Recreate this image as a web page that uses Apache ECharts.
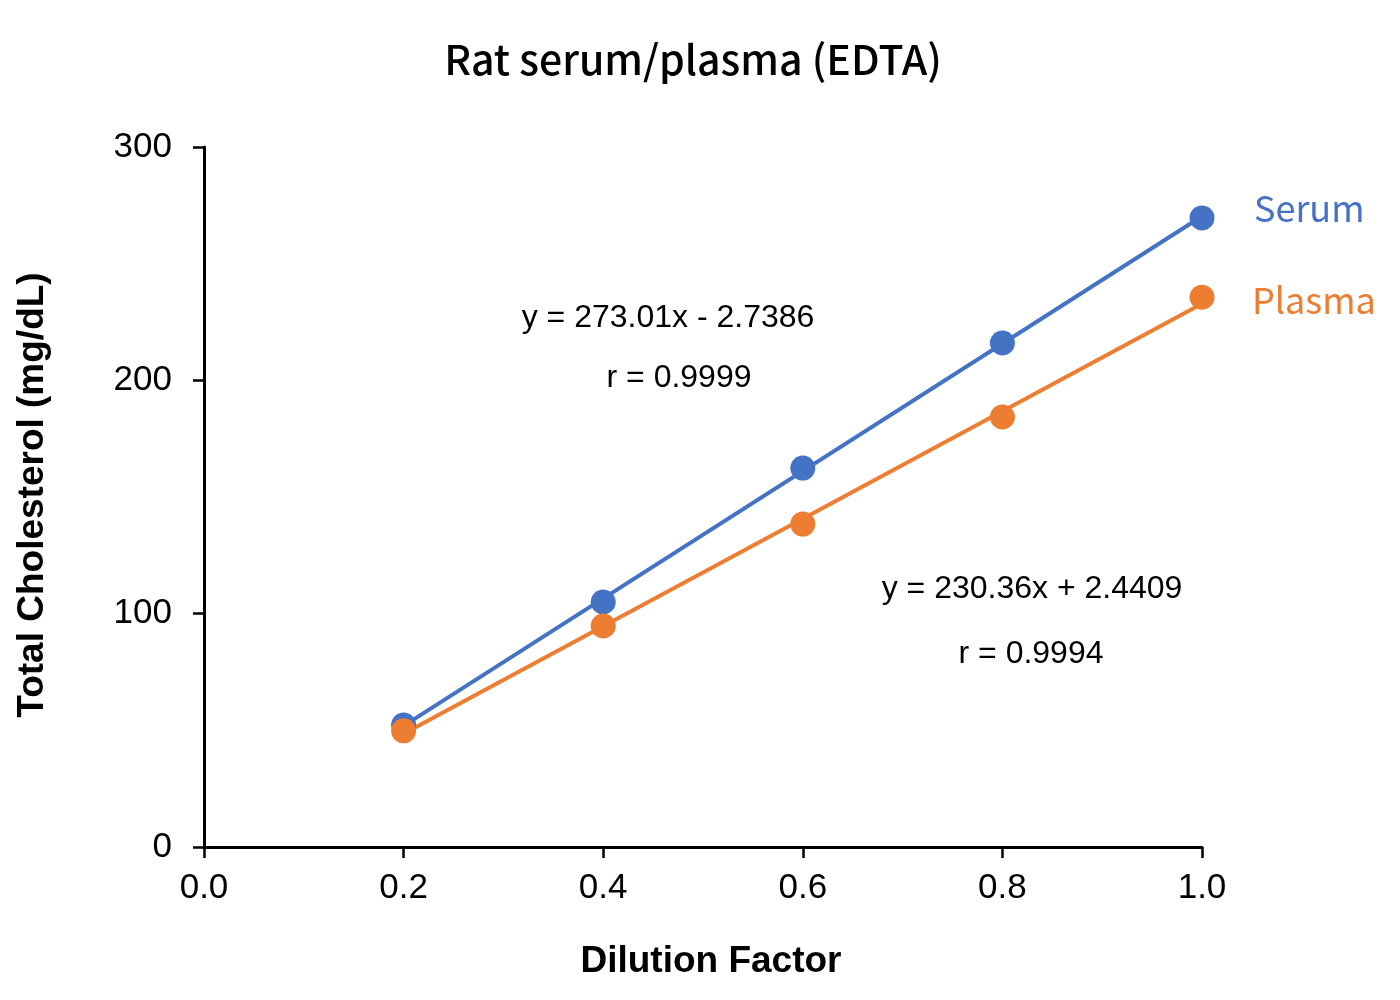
<!DOCTYPE html>
<html><head><meta charset="utf-8">
<script src="https://cdn.jsdelivr.net/npm/echarts@6/dist/echarts.min.js"></script>
<style>html,body{margin:0;padding:0;background:#fff}#c{width:1400px;height:1000px}</style>
</head><body><div id="c"></div>
<script>
const dilution = [0.2, 0.4, 0.6, 0.8, 1.0];
const serum = [52.3, 105.0, 162.4, 216.0, 269.6];
const plasma = [49.8, 94.7, 138.4, 184.3, 235.6];
const trendX = [0.2, 1.0];
const serumTrend = [51.9, 270.3];
const plasmaTrend = [48.5, 232.8];
const seriesNames = ['Serum', 'Plasma'];
const eqSerum = ['y = 273.01x - 2.7386', 'r = 0.9999'];
const eqPlasma = ['y = 230.36x + 2.4409', 'r = 0.9994'];
const blue = '#4472C4', orange = '#ED7D31';

const chart = echarts.init(document.getElementById('c'));
const pair = (xs, ys) => xs.map((x, i) => [x, ys[i]]);
const tickFont = { fontFamily: 'Liberation Sans', fontSize: 35, color: '#000' };
const eqStyle = { fontFamily: 'Liberation Sans', fontSize: 32, fill: '#000', textAlign: 'center', textVerticalAlign: 'middle' };
const axTitle = { fontFamily: 'Liberation Sans', fontWeight: 'bold', fontSize: 37, fill: '#000', textAlign: 'center', textVerticalAlign: 'middle' };

chart.setOption({
  animation: false,
  title: {
    text: 'Rat serum/plasma (EDTA)', left: 688, top: 34, textAlign: 'center',
    textStyle: { fontFamily: 'Noto Sans CJK JP', fontWeight: 500, fontSize: 41, color: '#000' }
  },
  grid: { left: 204, right: 198, top: 147, bottom: 153, containLabel: false },
  xAxis: {
    type: 'value', min: 0, max: 1, interval: 0.2,
    axisLine: { lineStyle: { color: '#000', width: 3 } },
    axisTick: { show: true, length: 11, lineStyle: { color: '#000', width: 2.5 } },
    axisLabel: Object.assign({ margin: 24, formatter: v => v.toFixed(1) }, tickFont),
    splitLine: { show: false }
  },
  yAxis: {
    type: 'value', min: 0, max: 300, interval: 100,
    axisLine: { show: true, lineStyle: { color: '#000', width: 3 } },
    axisTick: { show: true, length: 11, lineStyle: { color: '#000', width: 2.5 } },
    axisLabel: Object.assign({ margin: 32 }, tickFont),
    splitLine: { show: false }
  },
  graphic: [
    { type: 'text', x: 711, y: 962, style: Object.assign({ text: 'Dilution Factor' }, axTitle) },
    { type: 'text', x: 33, y: 495, rotation: Math.PI / 2, style: Object.assign({ text: 'Total Cholesterol (mg/dL)' }, axTitle) },
    { type: 'text', x: 1254, y: 208, style: { text: seriesNames[0], fontFamily: 'Noto Sans CJK JP', fontSize: 36, fill: blue, textAlign: 'left', textVerticalAlign: 'middle' } },
    { type: 'text', x: 1252, y: 300, style: { text: seriesNames[1], fontFamily: 'Noto Sans CJK JP', fontSize: 36, fill: orange, textAlign: 'left', textVerticalAlign: 'middle' } },
    { type: 'text', x: 668, y: 318, style: Object.assign({ text: eqSerum[0] }, eqStyle) },
    { type: 'text', x: 679, y: 378, style: Object.assign({ text: eqSerum[1] }, eqStyle) },
    { type: 'text', x: 1032, y: 589, style: Object.assign({ text: eqPlasma[0] }, eqStyle) },
    { type: 'text', x: 1031, y: 654, style: Object.assign({ text: eqPlasma[1] }, eqStyle) }
  ],
  series: [
    { name: seriesNames[0] + ' fit', type: 'line', data: pair(trendX, serumTrend), showSymbol: false, lineStyle: { color: blue, width: 4 }, z: 2 },
    { name: seriesNames[1] + ' fit', type: 'line', data: pair(trendX, plasmaTrend), showSymbol: false, lineStyle: { color: orange, width: 4 }, z: 2 },
    { name: seriesNames[0], type: 'scatter', data: pair(dilution, serum), symbolSize: 25, itemStyle: { color: blue, opacity: 1 }, z: 3 },
    { name: seriesNames[1], type: 'scatter', data: pair(dilution, plasma), symbolSize: 25, itemStyle: { color: orange, opacity: 1 }, z: 4 }
  ]
});
</script></body></html>
